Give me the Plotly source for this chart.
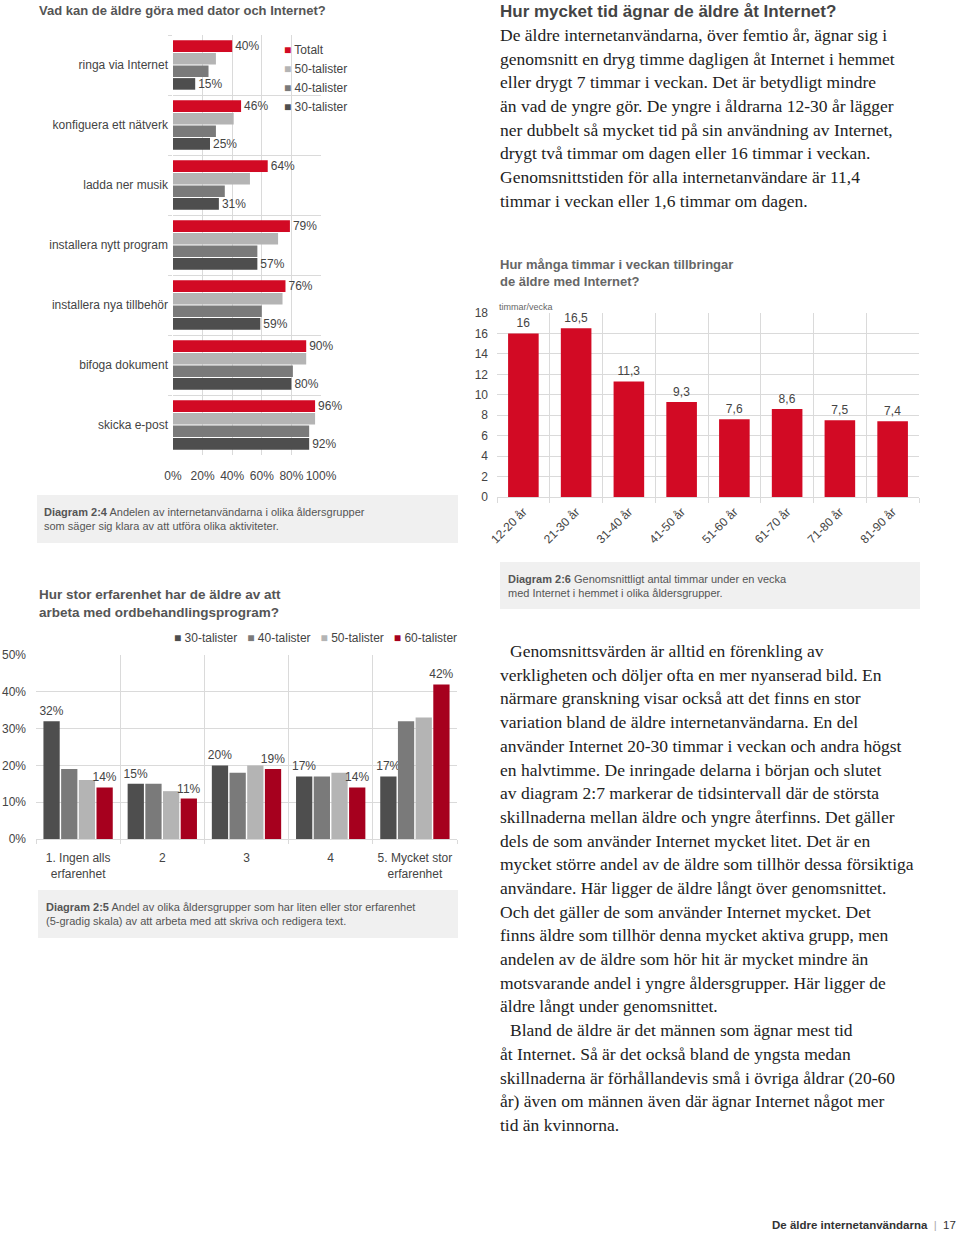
import plotly.graph_objects as go

W, H = 960, 1233
SANS = "Liberation Sans, Arial, sans-serif"
SERIF = "Liberation Serif, Times New Roman, serif"

RED = "#d20a24"
RED2 = "#a6001e"
LIGHT = "#b4b4b4"
MID = "#7a7a7a"
DARK = "#4e4e4e"
GRID = "#dadada"
TXT = "#444444"
CAPBG = "#f0f0f0"

# ---------------- data ----------------
activities = ["ringa via Internet", "konfiguera ett nätverk", "ladda ner musik",
              "installera nytt program", "installera nya tillbehör",
              "bifoga dokument", "skicka e-post"]
act_totalt = [40, 46, 64, 79, 76, 90, 96]
act_50 = [29, 41, 52, 71, 74, 90, 96]
act_40 = [24, 29, 35, 57, 60, 81, 92]
act_30 = [15, 25, 31, 57, 59, 80, 92]
act_ticks = [0, 20, 40, 60, 80, 100]

age_groups = ["12-20 år", "21-30 år", "31-40 år", "41-50 år",
              "51-60 år", "61-70 år", "71-80 år", "81-90 år"]
hours = [16, 16.5, 11.3, 9.3, 7.6, 8.6, 7.5, 7.4]

levels = ["1. Ingen alls<br>erfarenhet", "2", "3", "4", "5. Mycket stor<br>erfarenhet"]
exp_30 = [32, 15, 20, 17, 17]
exp_40 = [19, 15, 18, 17, 32]
exp_50 = [16, 13, 20, 18, 33]
exp_60 = [14, 11, 19, 14, 42]

para1 = [
    "De äldre internetanvändarna, över femtio år, ägnar sig i",
    "genomsnitt en dryg timme dagligen åt Internet i hemmet",
    "eller drygt 7 timmar i veckan. Det är betydligt mindre",
    "än vad de yngre gör. De yngre i åldrarna 12-30 år lägger",
    "ner dubbelt så mycket tid på sin användning av Internet,",
    "drygt två timmar om dagen eller 16 timmar i veckan.",
    "Genomsnittstiden för alla internetanvändare är 11,4",
    "timmar i veckan eller 1,6 timmar om dagen.",
]
para2 = [
    "Genomsnittsvärden är alltid en förenkling av",
    "verkligheten och döljer ofta en mer nyanserad bild. En",
    "närmare granskning visar också att det finns en stor",
    "variation bland de äldre internetanvändarna. En del",
    "använder Internet 20-30 timmar i veckan och andra högst",
    "en halvtimme. De inringade delarna i början och slutet",
    "av diagram 2:7 markerar de tidsintervall där de största",
    "skillnaderna mellan äldre och yngre återfinns. Det gäller",
    "dels de som använder Internet mycket litet. Det är en",
    "mycket större andel av de äldre som tillhör dessa försiktiga",
    "användare. Här ligger de äldre långt över genomsnittet.",
    "Och det gäller de som använder Internet mycket. Det",
    "finns äldre som tillhör denna mycket aktiva grupp, men",
    "andelen av de äldre som hör hit är mycket mindre än",
    "motsvarande andel i yngre åldersgrupper. Här ligger de",
    "äldre långt under genomsnittet.",
    "Bland de äldre är det männen som ägnar mest tid",
    "åt Internet. Så är det också bland de yngsta medan",
    "skillnaderna är förhållandevis små i övriga åldrar (20-60",
    "år) även om männen även där ägnar Internet något mer",
    "tid än kvinnorna.",
]
para2_indent = [0, 16]


def fx(x):
    return x / W


def fy(y):
    return 1 - y / H


fig = go.Figure()

# ---------------- chart 1: horizontal grouped bars ----------------
series1 = [("Totalt", act_totalt, RED, True), ("50-talister", act_50, LIGHT, False),
           ("40-talister", act_40, MID, False), ("30-talister", act_30, DARK, True)]
for name, vals, color, lab in series1:
    fig.add_trace(go.Bar(
        x=vals, y=activities, orientation="h", name=name,
        marker=dict(color=color, line=dict(width=0)),
        text=[f"{v}%" for v in vals] if lab else None,
        textposition="outside", constraintext="none", cliponaxis=False,
        textfont=dict(family=SANS, size=12, color=TXT),
        xaxis="x", yaxis="y", showlegend=False, hoverinfo="skip"))

# ---------------- chart 2: hours per week ----------------
hour_labels = [f"{v:g}".replace(".", ",") for v in hours]
fig.add_trace(go.Bar(
    x=age_groups, y=hours, width=0.58, name="timmar/vecka",
    marker=dict(color=RED, line=dict(width=0)),
    text=hour_labels, textposition="outside", constraintext="none", cliponaxis=False,
    textfont=dict(family=SANS, size=12, color=TXT),
    xaxis="x2", yaxis="y2", showlegend=False, hoverinfo="skip"))

# ---------------- chart 3: experience ----------------
series3 = [("30-talister", exp_30, DARK, True), ("40-talister", exp_40, MID, False),
           ("50-talister", exp_50, LIGHT, False), ("60-talister", exp_60, RED2, True)]
for name, vals, color, lab in series3:
    fig.add_trace(go.Bar(
        x=levels, y=vals, name=name,
        marker=dict(color=color, line=dict(width=0)),
        text=[f"{v}%" for v in vals] if lab else None,
        textposition="outside", constraintext="none", cliponaxis=False,
        textfont=dict(family=SANS, size=12, color=TXT),
        xaxis="x3", yaxis="y3", showlegend=False, hoverinfo="skip"))

axis_common = dict(showgrid=True, gridcolor=GRID, gridwidth=1, zeroline=False,
                   automargin=False,
                   tickfont=dict(family=SANS, size=12, color=TXT), fixedrange=True)

fig.update_layout(
    template="none",
    width=W, height=H, margin=dict(l=0, r=0, t=0, b=0, autoexpand=False),
    paper_bgcolor="white", plot_bgcolor="white",
    font=dict(family=SANS, color=TXT),
    barmode="group", bargap=0.16, bargroupgap=0.08,
    xaxis=dict(domain=[fx(173), fx(321)], range=[0, 100], tickmode="array",
               tickvals=act_ticks, ticktext=[f"{t}%" for t in act_ticks], tickangle=0,
               anchor="y", ticks="", ticklabelstandoff=12,
               showline=False, **axis_common),
    yaxis=dict(domain=[fy(455), fy(35)], type="category",
               range=[len(activities) - 0.5, -0.5],
               tickson="boundaries", ticks="outside", ticklen=4, tickcolor=GRID,
               ticklabelstandoff=4, anchor="x", showline=False, **axis_common),
    xaxis2=dict(domain=[fx(497), fx(919)], type="category",
                range=[-0.5, len(age_groups) - 0.5], tickson="boundaries",
                ticks="outside", ticklen=5, tickcolor=GRID, tickangle=-45,
                showline=True, linecolor=GRID, anchor="y2", ticklabelstandoff=2,
                **axis_common),
    yaxis2=dict(domain=[fy(497), fy(313)], range=[0, 18], dtick=2, anchor="x2",
                ticks="", ticklabelstandoff=8, showline=False, **axis_common),
    xaxis3=dict(domain=[fx(36), fx(457)], type="category",
                range=[-0.5, len(levels) - 0.5], tickson="boundaries",
                ticks="outside", ticklen=4, tickcolor=GRID, anchor="y3",
                showline=True, linecolor=GRID, ticklabelstandoff=8, **axis_common),
    yaxis3=dict(domain=[fy(839), fy(655)], range=[0, 50], dtick=10, ticksuffix="%",
                anchor="x3", ticks="", ticklabelstandoff=9, showline=False,
                **axis_common),
)

shapes = []
for x0, x1, y0, y1 in [(37, 458, 495, 543), (500, 920, 562, 609), (38, 458, 890, 938)]:
    shapes.append(dict(type="rect", xref="paper", yref="paper", x0=fx(x0), x1=fx(x1),
                       y0=fy(y1), y1=fy(y0), fillcolor=CAPBG, line=dict(width=0),
                       layer="below"))
fig.update_layout(shapes=shapes)

ann = []


def text(x, y, s, size, color=TXT, family=SANS, xanchor="left", yanchor="middle"):
    ann.append(dict(x=fx(x), y=fy(y), xref="paper", yref="paper", text=s,
                    showarrow=False, xanchor=xanchor, yanchor=yanchor, align=xanchor
                    if xanchor in ("left", "right") else "center",
                    font=dict(family=family, size=size, color=color)))


# titles
text(37, 10, "<b>Vad kan de äldre göra med dator och Internet?</b>", 13, "#555555")
text(498, 12, "<b>Hur mycket tid ägnar de äldre åt Internet?</b>", 17, "#444444")
text(498, 273, "<b>Hur många timmar i veckan tillbringar<br>de äldre med Internet?</b>",
     13, "#666666")
text(37, 603, "<b>Hur stor erfarenhet har de äldre av att<br>arbeta med ordbehandlingsprogram?</b>",
     13.5, "#555555")

# legend chart 1
for i, (name, vals, color, lab) in enumerate(series1):
    text(282, 50 + 19 * i, f"<span style='color:{color}'>■</span> {name}", 12, TXT)

# legend chart 3
leg3 = "&nbsp;&nbsp;&nbsp;".join(
    f"<span style='color:{c}'>■</span> {n}" for n, v, c, l in series3)
text(172, 638, leg3, 12, TXT)

text(497, 307, "timmar/vecka", 9, "#666666")

# captions
text(42, 519, "<b>Diagram 2:4</b> Andelen av internetanvändarna i olika åldersgrupper"
     "<br>som säger sig klara av att utföra olika aktiviteter.", 11, "#555555")
text(506, 586, "<b>Diagram 2:6</b> Genomsnittligt antal timmar under en vecka"
     "<br>med Internet i hemmet i olika åldersgrupper.", 11, "#555555")
text(44, 914, "<b>Diagram 2:5</b> Andel av olika åldersgrupper som har liten eller stor erfarenhet"
     "<br>(5-gradig skala) av att arbeta med att skriva och redigera text.", 11, "#555555")

# body text
for i, line in enumerate(para1):
    text(498, 35 + 23.7 * i, line, 17.5, "#222222", SERIF)
for i, line in enumerate(para2):
    indent = 10 if i in para2_indent else 0
    text(498 + indent, 651 + 23.7 * i, line, 17.5, "#222222", SERIF)

# footer
text(958, 1225, "<b>De äldre internetanvändarna</b>  <span style='color:#aaaaaa'>|</span>  17",
     11.5, "#333333", xanchor="right")

fig.update_layout(annotations=ann)
fig.write_html("out.html", config={"responsive": False},
               post_script="document.body.style.margin='0px';")
